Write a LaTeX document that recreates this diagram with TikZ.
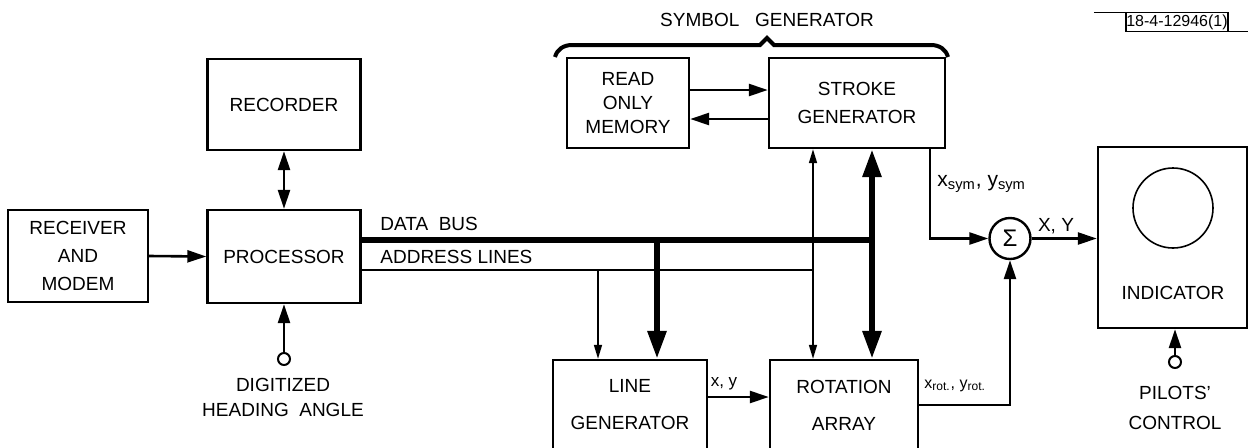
\documentclass[tikz,border=0pt]{standalone}
\usepackage{fontspec}
\setmainfont{Liberation Sans}
\usetikzlibrary{arrows.meta}

\tikzset{
  blk/.style={draw,line width=1.2pt,align=center,inner sep=0pt,
    font=\fontsize{9.5}{14}\selectfont},
  arr/.style={line width=1.3pt,-{Triangle[length=9.5pt,width=6pt]}},
  darr/.style={line width=1.3pt,{Triangle[length=9.5pt,width=6pt]}-{Triangle[length=9.5pt,width=6pt]}},
  tarr/.style={line width=0.8pt,-{Triangle[length=7pt,width=4pt]}},
  tdarr/.style={line width=0.8pt,{Triangle[length=7pt,width=4pt]}-{Triangle[length=7pt,width=4pt]}},
  bus/.style={line width=3pt},
  bbus/.style={line width=3pt,-{Triangle[length=14pt,width=9pt]}},
  bdarr/.style={line width=3pt,{Triangle[length=14pt,width=9pt]}-{Triangle[length=14pt,width=9pt]}},
  port/.style={draw,circle,line width=1pt,minimum size=6pt,inner sep=0pt,fill=white},
  lbl/.style={inner sep=0pt,font=\fontsize{9.5}{14}\selectfont},
  sublbl/.style={inner sep=0pt,font=\fontsize{8.5}{10}\selectfont},
}

\begin{document}
\begin{tikzpicture}[x=0.5pt,y=-0.5pt]
  %\draw[help lines,step=50] (0,0) grid (1250,447);
  \useasboundingbox (0,0) rectangle (1250,447);
  \clip (0,0) rectangle (1250,447);

  % blocks
  \node[blk,minimum width=70pt,minimum height=46pt] (recv) at (78,256) {RECEIVER\\AND\\MODEM};
  \node[blk,minimum width=76.5pt,minimum height=46.5pt] (proc) at (284,256.5) {PROCESSOR};
  \node[blk,minimum width=76.5pt,minimum height=45.5pt] (rec) at (284,104.5) {RECORDER};
  \node[blk,minimum width=61pt,minimum height=45pt,font=\fontsize{9.5}{12}\selectfont] (rom) at (628,103) {READ\\ONLY\\MEMORY};
  \node[blk,minimum width=88pt,minimum height=45pt] (stroke) at (857,103) {STROKE\\GENERATOR};
  \node[blk,minimum width=77pt,minimum height=45pt,font=\fontsize{9.5}{18.5}\selectfont] (linegen) at (630,405) {LINE\\GENERATOR};
  \node[blk,minimum width=74pt,minimum height=45pt,font=\fontsize{9.5}{18.5}\selectfont] (rot) at (844,405) {ROTATION\\ARRAY};
  \node[blk,minimum width=74.5pt,minimum height=90.5pt] (ind) at (1172.5,237.5) {};
  \node[draw,circle,line width=0.8pt,minimum size=40pt,inner sep=0pt] (crt) at (1173,208) {};
  \node[lbl] (indtxt) at (1173,293) {INDICATOR};
  \node[draw,circle,line width=1.2pt,minimum size=20.5pt,inner sep=0pt,font=\fontsize{12}{12}\selectfont] (sum) at (1010,238.5) {Σ};

  % inputs
  \node[port] (hdg) at (284,359) {};
  \node[lbl,align=center,font=\fontsize{9.5}{12.5}\selectfont] (hdgtxt) at (283,397.5) {DIGITIZED\\HEADING\ \ ANGLE};
  \node[port] (pil) at (1175,362) {};
  \node[lbl,align=center,font=\fontsize{9.5}{15}\selectfont] (piltxt) at (1175,408) {PILOTS'\\CONTROL};

  % bus junctions
  \coordinate (dtap) at (657,240);
  \coordinate (dbus) at (872,240);
  \coordinate (atap) at (598,270);
  \coordinate (abus) at (813,270);
  \coordinate (symout) at (930,148);

  \draw[arr] (recv.east) -- (proc.west);
  \draw[darr] (rec) -- (proc);
  \draw[arr] (hdg) -- (hdg |- proc.south);

  \draw[bus] (proc.east |- dbus) -- (dbus);
  \draw[line width=1pt] (proc.east |- abus) -- (abus);
  \draw[bbus] (dtap) -- (dtap |- linegen.north);
  \draw[tarr] (atap) -- (atap |- linegen.north);
  \draw[tdarr] (stroke.south -| abus) -- (rot.north -| abus);
  \draw[bdarr] (stroke.south -| dbus) -- (rot.north -| dbus);

  \draw[arr] ([yshift=6.5pt]rom.east) -- ([yshift=6.5pt]stroke.west);
  \draw[arr] ([yshift=-8pt]stroke.west) -- ([yshift=-8pt]rom.east);
  \draw[arr] ([yshift=4pt]linegen.east) -- ([yshift=4pt]rot.west);
  \draw[arr] (rot.east) -| (sum);
  \draw[arr] (symout) |- (sum);
  \draw[arr] (sum) -- (sum -| ind.west);
  \draw[arr] (pil) -- (pil |- ind.south);

  % labels
  \node[lbl,anchor=west] (dbtxt) at (380,224) {DATA\ \ BUS};
  \node[lbl,anchor=west] (abtxt) at (380,257) {ADDRESS LINES};
  \node[sublbl] (xytxt) at (724,384) {x, y};
  \node[sublbl,anchor=west,font=\fontsize{10.5}{12}\selectfont] (symtxt) at (937,184) {x\textsubscript{sym}, y\textsubscript{sym}};
  \node[sublbl,anchor=west,font=\fontsize{8}{10}\selectfont] (rottxt) at (924,386) {x\textsubscript{rot.}, y\textsubscript{rot.}};
  \node[sublbl,font=\fontsize{9.5}{10}\selectfont] (XYtxt) at (1056,226) {X, Y};

  % symbol generator brace
  \node[lbl] (symgen) at (767,20) {SYMBOL\ \ \ GENERATOR};
  \draw[line width=2pt] (555,57) to[out=75,in=180] (572,45) -- (760,45) -- (767,38)
    -- (774,45) -- (931,45) to[out=0,in=105] (948,57);

  % figure number
  \node[inner sep=0pt,minimum width=50pt,minimum height=9pt,font=\fontsize{8}{9}\selectfont] (fignum) at (1177,22) {18-4-12946(1)};
  \draw[line width=0.8pt] ([xshift=-16pt]fignum.north west) -- (fignum.north east) -- (fignum.south east);
  \draw[line width=0.8pt] (fignum.north west) -- (fignum.south west) -- ([xshift=10pt]fignum.south east);
\end{tikzpicture}
\end{document}
